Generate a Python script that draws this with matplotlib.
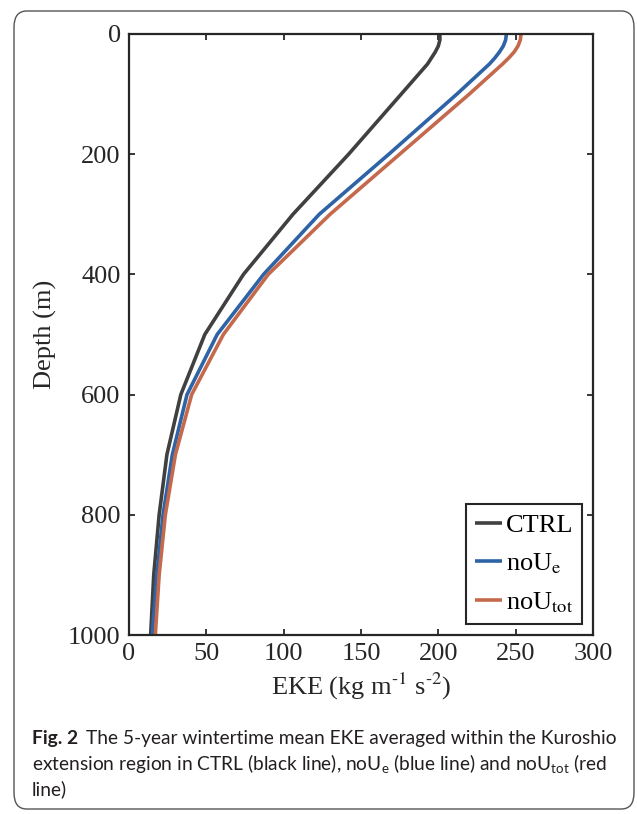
import matplotlib
matplotlib.use("Agg")
import matplotlib.pyplot as plt
from matplotlib.font_manager import FontProperties
from matplotlib.patches import FancyBboxPatch

# 讀圖估計的數值
depth = [0, 10, 20, 30, 40, 50, 100, 200, 300, 400, 500, 600, 700, 800, 900, 1000]
eke_ctrl = [201, 201, 200, 198, 195.5, 193, 176, 142, 106, 74, 49, 33.5, 24.5, 19.5, 16, 14]
eke_noue = [244, 243.5, 242, 239.5, 236.5, 233, 212, 168, 123, 87, 57, 37.5, 28, 22, 18, 15]
eke_noutot = [253.5, 253, 251.5, 249, 245.5, 241.5, 220, 175, 130, 90, 61, 40.5, 30, 23.5, 19.5, 17]

labels = ["CTRL", "noU$_\\mathrm{e}$", "noU$_\\mathrm{tot}$"]
colors = ["#404040", "#2e63a6", "#c4694c"]
xticks = [0, 50, 100, 150, 200, 250, 300]
yticks = [0, 200, 400, 600, 800, 1000]

plt.rcParams['font.family'] = ['Liberation Serif', 'DejaVu Serif']
plt.rcParams['mathtext.fontset'] = 'stix'
plt.rcParams['mathtext.rm'] = 'Lato'
plt.rcParams['mathtext.it'] = 'Lato:italic'

fig = plt.figure(figsize=(6.37, 8.14), dpi=100)

# 外框
border = FancyBboxPatch((14 / 637, 1 - 809 / 814), 620 / 637, 798 / 814,
                        boxstyle="round,pad=0,rounding_size=0.02",
                        transform=fig.transFigure, fill=False,
                        edgecolor="#555555", linewidth=1.0)
fig.patches.append(border)

ax = fig.add_axes([129 / 637, 1 - 635 / 814, 464 / 637, 601 / 814])

for x, lab, c in zip([eke_ctrl, eke_noue, eke_noutot], labels, colors):
    ax.plot(x, depth, color=c, linewidth=2.6, label=lab, solid_capstyle='butt')

ax.set_xlim(0, 300)
ax.set_ylim(1000, 0)
ax.set_xticks(xticks)
ax.set_yticks(yticks)
ax.tick_params(direction='in', top=True, right=True, length=4, width=1.3,
               labelsize=19, pad=6, colors='#262626')
for s in ax.spines.values():
    s.set_linewidth(1.6)
    s.set_color('#262626')

ax.set_xlabel("EKE (kg m$^{\\text{-1}}$ s$^{\\text{-2}}$)", fontsize=19, color='#262626', labelpad=4)
ax.set_ylabel("Depth (m)", fontsize=19, color='#262626', labelpad=8)

leg_prop = FontProperties(family='Liberation Serif', size=19, math_fontfamily='stix')
leg = ax.legend(loc='lower right', prop=leg_prop, handlelength=1.0, handletextpad=0.15,
                borderaxespad=0.4, fancybox=False, framealpha=1, labelspacing=0.55,
                borderpad=0.35)
leg.get_frame().set_edgecolor('#262626')
leg.get_frame().set_linewidth(1.5)

# 圖說
cap = dict(fontsize=13.8, family='Lato', color='#231f20', math_fontfamily='custom',
           ha='left', va='baseline')
x0 = 32 / 637
y1 = 1 - 744 / 814
bold = fig.text(x0, y1, "Fig. 2", fontweight='bold', **cap)
fig.canvas.draw()
bb = bold.get_window_extent(renderer=fig.canvas.get_renderer())
fig.text((bb.x1 + 8) / 637, y1,
         "The 5-year wintertime mean EKE averaged within the Kuroshio", **cap)
fig.text(x0, 1 - 770 / 814,
         "extension region in CTRL (black line), noU$_\\mathrm{e}$ (blue line) and noU$_\\mathrm{tot}$ (red", **cap)
fig.text(x0, 1 - 795 / 814, "line)", **cap)

fig.savefig("out.png", dpi=100)
